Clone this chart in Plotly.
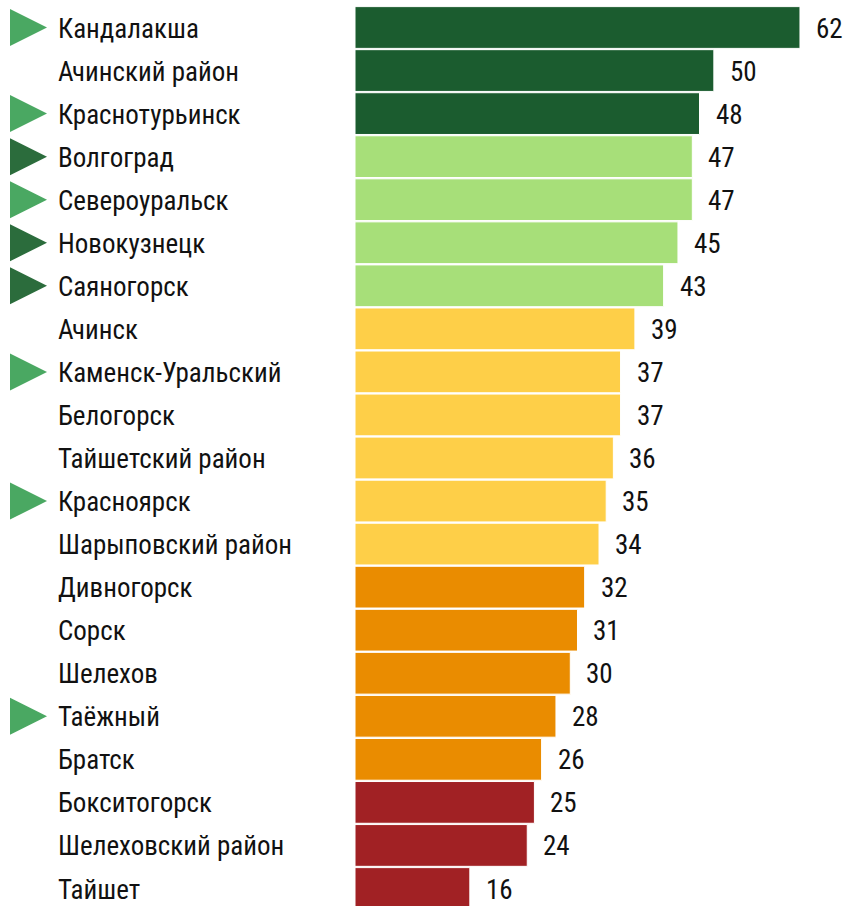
import plotly.graph_objects as go

# data, top to bottom
cities = [
    "Кандалакша", "Ачинский район", "Краснотурьинск", "Волгоград", "Североуральск",
    "Новокузнецк", "Саяногорск", "Ачинск", "Каменск-Уральский", "Белогорск",
    "Тайшетский район", "Красноярск", "Шарыповский район", "Дивногорск", "Сорск",
    "Шелехов", "Таёжный", "Братск", "Бокситогорск", "Шелеховский район", "Тайшет",
]
values = [62, 50, 48, 47, 47, 45, 43, 39, 37, 37, 36, 35, 34, 32, 31, 30, 28, 26, 25, 24, 16]
groups = ["dg", "dg", "dg", "lg", "lg", "lg", "lg", "y", "y", "y", "y", "y", "y",
          "o", "o", "o", "o", "o", "r", "r", "r"]
markers = ["light", "", "light", "dark", "light", "dark", "dark", "", "light", "", "",
           "light", "", "", "", "", "light", "", "", "", ""]

bar_colors = {"dg": "#1b5c2f", "lg": "#a7df79", "y": "#fecf48", "o": "#ea8c00", "r": "#a12124"}
tri_colors = {"light": "#4aa862", "dark": "#2b6c3c"}

W, H = 846, 906
px_per_unit = 7.177
bar_left = 355
pitch = 43.05
first_center = 27.5

x_range = [-bar_left / px_per_unit, (W - bar_left) / px_per_unit]
y_top = -first_center / pitch
y_range = [y_top + H / pitch, y_top]

FONT = "Roboto Condensed, DejaVu Sans Condensed, sans-serif"

ypos = list(range(len(cities)))

fig = go.Figure()
fig.add_trace(go.Bar(
    x=values, y=ypos, orientation="h",
    marker=dict(color=[bar_colors[g] for g in groups], line=dict(color="white", width=1)),
    width=0.97, hoverinfo="skip",
))

# triangles left of the labels
tri_x0 = (10 - bar_left) / px_per_unit
tri_x1 = (47 - bar_left) / px_per_unit
tri_h = 18.5 / pitch
for i, m in enumerate(markers):
    if not m:
        continue
    fig.add_trace(go.Scatter(
        x=[tri_x0, tri_x1, tri_x0, tri_x0],
        y=[i - tri_h, i, i + tri_h, i - tri_h],
        mode="lines", fill="toself", fillcolor=tri_colors[m],
        line=dict(width=0, color=tri_colors[m]), hoverinfo="skip",
    ))

for i, (c, v) in enumerate(zip(cities, values)):
    fig.add_annotation(x=56 / W, xref="paper", y=i, yref="y", text=c, showarrow=False,
                       xanchor="left", yanchor="middle", yshift=-1,
                       font=dict(family=FONT, size=27, color="#111111"))
    fig.add_annotation(x=v, xref="x", y=i, yref="y", text=str(v), showarrow=False,
                       xanchor="left", yanchor="middle", xshift=14, yshift=-1,
                       font=dict(family=FONT, size=27, color="#111111"))

fig.update_layout(
    width=W, height=H,
    margin=dict(l=0, r=0, t=0, b=0),
    plot_bgcolor="white", paper_bgcolor="white",
    showlegend=False,
    xaxis=dict(range=x_range, visible=False, fixedrange=True),
    yaxis=dict(range=y_range, visible=False, fixedrange=True),
)

fig.write_html("out.html", config={"displayModeBar": False},
               post_script="document.body.style.margin='0';document.body.style.overflow='hidden';")
